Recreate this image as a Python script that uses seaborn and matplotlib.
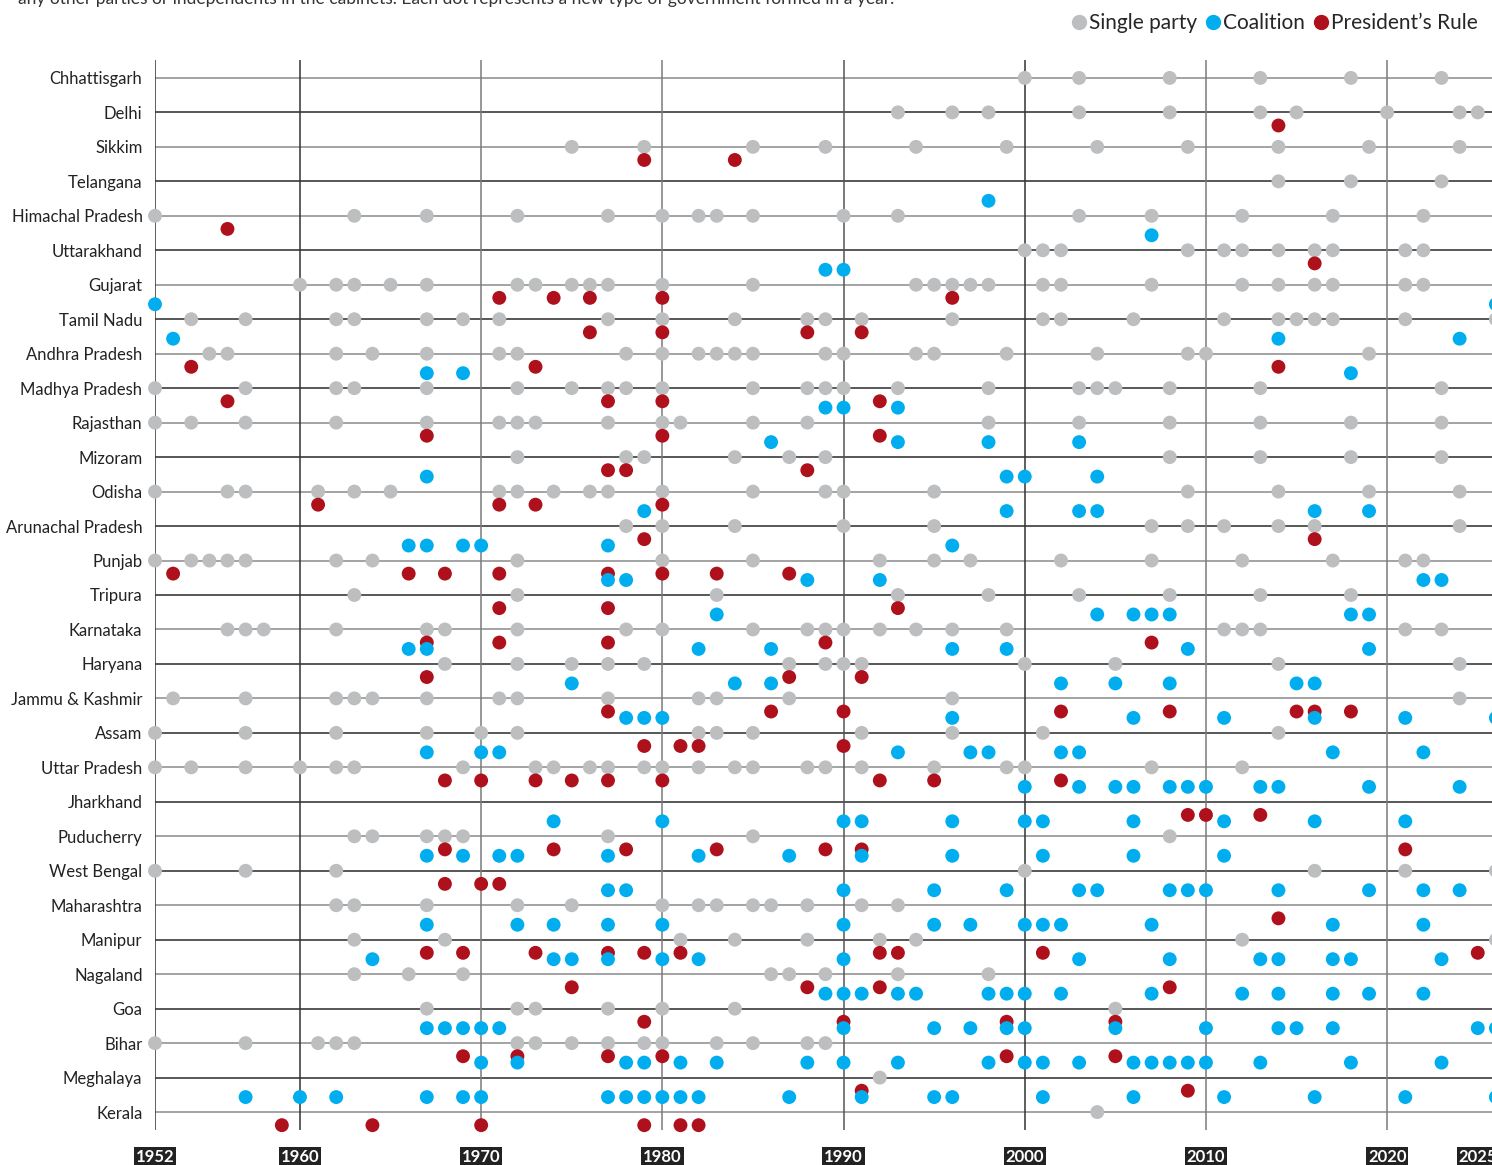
import numpy as np
import pandas as pd
import seaborn as sns
import matplotlib.pyplot as plt
from matplotlib.lines import Line2D

sns.set_style("white")
plt.rcParams['font.family'] = ['Lato', 'DejaVu Sans']

states = ["Chhattisgarh", "Delhi", "Sikkim", "Telangana", "Himachal Pradesh", "Uttarakhand",
          "Gujarat", "Tamil Nadu", "Andhra Pradesh", "Madhya Pradesh", "Rajasthan", "Mizoram",
          "Odisha", "Arunachal Pradesh", "Punjab", "Tripura", "Karnataka", "Haryana",
          "Jammu & Kashmir", "Assam", "Uttar Pradesh", "Jharkhand", "Puducherry", "West Bengal",
          "Maharashtra", "Manipur", "Nagaland", "Goa", "Bihar", "Meghalaya", "Kerala"]

# (single party, coalition, president's rule) years for each state
chhattisgarh = ([2000, 2003, 2008, 2013, 2018, 2023], [], [])
delhi = ([1993, 1996, 1998, 2003, 2008, 2013, 2015, 2020, 2024, 2025], [], [2014])
sikkim = ([1975, 1979, 1985, 1989, 1994, 1999, 2004, 2009, 2014, 2019, 2024], [], [1979, 1984])
telangana = ([2014, 2018, 2023], [], [])
himachal = ([1952, 1963, 1967, 1972, 1977, 1980, 1982, 1983, 1985, 1990, 1993, 2003, 2007, 2012, 2017, 2022],
            [1998], [1956])
uttarakhand = ([2000, 2001, 2002, 2009, 2011, 2012, 2014, 2016, 2017, 2021, 2022], [2007], [2016])
gujarat = ([1960, 1962, 1963, 1965, 1967, 1972, 1973, 1975, 1976, 1977, 1980, 1985, 1994, 1995, 1996,
            1997, 1998, 2001, 2002, 2007, 2012, 2014, 2016, 2017, 2021, 2022],
           [1989, 1990], [1971, 1974, 1976, 1980, 1996])
tamil_nadu = ([1954, 1957, 1962, 1963, 1967, 1969, 1971, 1977, 1980, 1984, 1988, 1989, 1991, 1996, 2001,
               2002, 2006, 2011, 2014, 2015, 2016, 2017, 2021, 2026],
              [1952, 2026], [1976, 1980, 1988, 1991])
andhra = ([1955, 1956, 1962, 1964, 1967, 1971, 1972, 1978, 1980, 1982, 1983, 1984, 1985, 1989, 1990,
           1994, 1995, 1999, 2004, 2009, 2010, 2019],
          [1953, 2014, 2024], [1954, 1973, 2014])
madhya = ([1952, 1957, 1962, 1963, 1967, 1972, 1975, 1977, 1978, 1980, 1985, 1988, 1989, 1990, 1993,
           1998, 2003, 2004, 2005, 2008, 2013, 2023],
          [1967, 1969, 2018], [1956, 1977, 1980, 1992])
rajasthan = ([1952, 1954, 1957, 1962, 1967, 1971, 1972, 1973, 1977, 1980, 1981, 1985, 1988, 1998, 2003,
              2008, 2013, 2018, 2023],
             [1989, 1990, 1993], [1967, 1980, 1992])
mizoram = ([1972, 1978, 1979, 1984, 1987, 1989, 2008, 2013, 2018, 2023],
           [1986, 1993, 1998, 2003], [1977, 1978, 1988])
odisha = ([1952, 1956, 1957, 1961, 1963, 1965, 1971, 1972, 1974, 1976, 1977, 1980, 1985, 1989, 1990,
           1995, 2009, 2014, 2019, 2024],
          [1967, 1999, 2000, 2004], [1961, 1971, 1973, 1980])
arunachal = ([1978, 1980, 1984, 1990, 1995, 2007, 2009, 2011, 2014, 2016, 2024],
             [1979, 1999, 2003, 2004, 2016, 2019], [1979, 2016])
punjab = ([1952, 1954, 1955, 1956, 1957, 1962, 1964, 1972, 1980, 1985, 1992, 1995, 1997, 2002, 2007,
           2012, 2017, 2021, 2022],
          [1966, 1967, 1969, 1970, 1977, 1996], [1953, 1966, 1968, 1971, 1977, 1980, 1983, 1987])
tripura = ([1963, 1972, 1983, 1993, 1998, 2003, 2008, 2013, 2018],
           [1977, 1978, 1988, 1992, 2022, 2023], [1971, 1977, 1993])
karnataka = ([1956, 1957, 1958, 1962, 1967, 1968, 1972, 1978, 1980, 1985, 1988, 1989, 1990, 1992, 1994,
              1996, 1999, 2011, 2012, 2013, 2021, 2023],
             [1983, 2004, 2006, 2007, 2008, 2018, 2019], [1967, 1971, 1977, 1989, 2007])
haryana = ([1968, 1972, 1975, 1977, 1979, 1987, 1989, 1990, 1991, 2000, 2005, 2014, 2024],
           [1966, 1967, 1982, 1986, 1996, 1999, 2009, 2019], [1967, 1987, 1991])
jammu_kashmir = ([1953, 1957, 1962, 1963, 1964, 1967, 1971, 1972, 1977, 1982, 1983, 1987, 1996, 2024],
                 [1975, 1984, 1986, 2002, 2005, 2008, 2015, 2016],
                 [1977, 1986, 1990, 2002, 2008, 2015, 2016, 2018])
assam = ([1952, 1957, 1962, 1967, 1970, 1972, 1982, 1983, 1985, 1991, 1996, 2001, 2014],
         [1978, 1979, 1980, 1996, 2006, 2011, 2016, 2021, 2026], [1979, 1981, 1982, 1990])
uttar_pradesh = ([1952, 1954, 1957, 1960, 1962, 1963, 1969, 1973, 1974, 1976, 1977, 1979, 1980, 1982,
                  1984, 1985, 1988, 1989, 1991, 1995, 1999, 2000, 2007, 2012],
                 [1967, 1970, 1971, 1993, 1997, 1998, 2002, 2003, 2017, 2022],
                 [1968, 1970, 1973, 1975, 1977, 1980, 1992, 1995, 2002])
jharkhand = ([], [2000, 2003, 2005, 2006, 2008, 2009, 2010, 2013, 2014, 2019, 2024], [2009, 2010, 2013])
puducherry = ([1963, 1964, 1967, 1968, 1969, 1977, 1985, 2008],
              [1974, 1980, 1990, 1991, 1996, 2000, 2001, 2006, 2011, 2016, 2021],
              [1968, 1974, 1978, 1983, 1989, 1991, 2021])
west_bengal = ([1952, 1957, 1962, 2000, 2016, 2021, 2026],
               [1967, 1969, 1971, 1972, 1977, 1982, 1987, 1991, 1996, 2001, 2006, 2011],
               [1968, 1970, 1971])
maharashtra = ([1962, 1963, 1967, 1972, 1975, 1980, 1982, 1983, 1985, 1986, 1988, 1991, 1993],
               [1977, 1978, 1990, 1995, 1999, 2003, 2004, 2008, 2009, 2010, 2014, 2019, 2022, 2024],
               [2014])
manipur = ([1963, 1968, 1981, 1984, 1988, 1992, 1994, 2012, 2026],
           [1967, 1972, 1974, 1977, 1980, 1990, 1995, 1997, 2000, 2001, 2002, 2007, 2017, 2022],
           [1967, 1969, 1973, 1977, 1979, 1981, 1992, 1993, 2001, 2025])
nagaland = ([1963, 1966, 1969, 1986, 1987, 1989, 1993, 1998],
            [1964, 1974, 1975, 1977, 1980, 1982, 1990, 2003, 2008, 2013, 2014, 2017, 2018, 2023],
            [1975, 1988, 1992, 2008])
goa = ([1967, 1972, 1973, 1977, 1980, 1984, 2005],
       [1989, 1990, 1991, 1993, 1994, 1998, 1999, 2000, 2002, 2007, 2012, 2014, 2017, 2019, 2022],
       [1979, 1990, 1999, 2005])
bihar = ([1952, 1957, 1961, 1962, 1963, 1972, 1973, 1975, 1977, 1979, 1980, 1983, 1985, 1988, 1989],
         [1967, 1968, 1969, 1970, 1971, 1990, 1995, 1997, 1999, 2000, 2005, 2010, 2014, 2015, 2017,
          2025, 2026],
         [1969, 1972, 1977, 1980, 1999, 2005])
meghalaya = ([1992],
             [1970, 1972, 1978, 1979, 1981, 1983, 1988, 1990, 1993, 1998, 2000, 2001, 2003, 2006, 2007,
              2008, 2009, 2010, 2013, 2018, 2023],
             [1991, 2009])
kerala = ([2004],
          [1957, 1960, 1962, 1967, 1969, 1970, 1977, 1978, 1979, 1980, 1981, 1982, 1987, 1991, 1995,
           1996, 2001, 2006, 2011, 2016, 2021, 2026],
          [1959, 1964, 1970, 1979, 1981, 1982])

state_years = [chhattisgarh, delhi, sikkim, telangana, himachal, uttarakhand, gujarat, tamil_nadu,
               andhra, madhya, rajasthan, mizoram, odisha, arunachal, punjab, tripura, karnataka,
               haryana, jammu_kashmir, assam, uttar_pradesh, jharkhand, puducherry, west_bengal,
               maharashtra, manipur, nagaland, goa, bihar, meghalaya, kerala]

kinds = ["Single party", "Coalition", "President\u2019s Rule"]
colors = {"Single party": "#BDBEC0", "Coalition": "#00AEEF", "President\u2019s Rule": "#AF111C"}
offsets = {"Single party": 0.0, "Coalition": -0.435, "President\u2019s Rule": 0.38}
tick_years = [1952, 1960, 1970, 1980, 1990, 2000, 2010, 2020, 2025]

rows = []
for i, yrs in enumerate(state_years):
    for k, kind in enumerate(kinds):
        for y in yrs[k]:
            rows.append({"state": states[i], "year": y, "type": kind, "pos": i + offsets[kind]})
df = pd.DataFrame(rows)

W, H = 1492, 1165
fig = plt.figure(figsize=(W / 100, H / 100), dpi=100)
ax = fig.add_axes([155 / W, 1 - 1130 / H, (W - 155) / W, (1130 - 60) / H])

xmax = 1952 + (W - 155) / 18.12
ax.set_xlim(1952, xmax)
ax.set_ylim(30.52, -0.52)

# row lines, alternating tones
for i in range(len(states)):
    ax.hlines(i, 1952, xmax, color="#8a8a8a" if i % 2 == 0 else "#2a2a2a", lw=1.1, zorder=1)

vcols = {1952: "#333333", 1960: "#333333", 1970: "#7a7a7a", 1980: "#7a7a7a",
         1990: "#555555", 2000: "#333333", 2010: "#7a7a7a", 2020: "#7a7a7a"}
for yr, c in vcols.items():
    ax.axvline(yr, color=c, lw=1.1, zorder=1)

sns.scatterplot(data=df, x="year", y="pos", hue="type", palette=colors, hue_order=kinds,
                s=100, linewidth=0, legend=False, ax=ax, zorder=3, clip_on=False)

for s in ax.spines.values():
    s.set_visible(False)

ax.set_yticks(range(len(states)))
ax.set_yticklabels(states, fontsize=12, color="#222222")
ax.tick_params(axis="y", length=0, pad=9)

ax.set_xticks(tick_years)
ax.set_xticklabels([str(t) for t in tick_years], fontsize=12, fontweight="bold", color="white")
ax.tick_params(axis="x", length=0, pad=14)
for lbl in ax.get_xticklabels():
    lbl.set_bbox(dict(facecolor="#222222", edgecolor="none", pad=1.5))
ax.set_xlabel("")
ax.set_ylabel("")

fig.text(18 / W, 1 - 4 / H,
         "any other parties or independents in the cabinets. Each dot represents a new type of "
         "government formed in a year.",
         fontsize=12.5, color="#333333", va="baseline", ha="left")

handles = [Line2D([], [], marker="o", ls="", color=colors[k], markersize=10) for k in kinds]
fig.legend(handles, kinds, loc="upper right", bbox_to_anchor=(1 - 14 / W, 1 - 13 / H), ncol=3,
           frameon=False, fontsize=15, handletextpad=0.05, columnspacing=0.3, handlelength=0.9,
           borderaxespad=0, borderpad=0)

fig.savefig("out.png", dpi=100)
